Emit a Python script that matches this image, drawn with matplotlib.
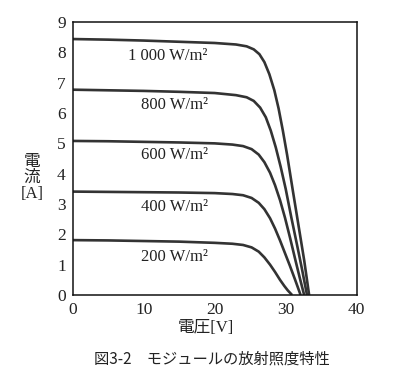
import matplotlib
matplotlib.use("Agg")
import matplotlib.pyplot as plt

# ---- data ----
V1000 = [0, 5, 10, 15, 20, 23, 24.5, 25.5, 26.3, 27.0, 27.7, 28.4, 29.0, 29.6, 30.2, 31.0, 31.8, 32.6, 33.3]
I1000 = [8.44, 8.42, 8.39, 8.35, 8.31, 8.26, 8.20, 8.10, 7.94, 7.68, 7.28, 6.75, 6.15, 5.42, 4.62, 3.45, 2.30, 1.15, 0.0]

V800 = [0, 5, 10, 15, 20, 23, 24.5, 25.5, 26.4, 27.2, 27.9, 28.6, 29.3, 30.0, 30.8, 31.6, 32.3, 33.0]
I800 = [6.77, 6.75, 6.73, 6.70, 6.66, 6.59, 6.52, 6.40, 6.18, 5.86, 5.42, 4.87, 4.22, 3.50, 2.55, 1.65, 0.85, 0.0]

V600 = [0, 5, 10, 15, 20, 22.5, 24, 25.2, 26.2, 27.0, 27.8, 28.5, 29.2, 29.9, 30.6, 31.4, 32.0, 32.6]
I600 = [5.08, 5.07, 5.05, 5.03, 5.00, 4.96, 4.91, 4.81, 4.63, 4.38, 4.03, 3.62, 3.13, 2.55, 1.90, 1.12, 0.55, 0.0]

V400 = [0, 5, 10, 15, 20, 22.5, 24, 25.2, 26.2, 27.0, 27.8, 28.5, 29.2, 29.9, 30.6, 31.3, 32.1]
I400 = [3.41, 3.40, 3.39, 3.38, 3.36, 3.33, 3.29, 3.20, 3.04, 2.83, 2.53, 2.19, 1.80, 1.38, 0.96, 0.52, 0.0]

V200 = [0, 5, 10, 15, 20, 22.5, 24, 25.2, 26.2, 27.0, 27.8, 28.5, 29.2, 29.8, 30.3, 30.9]
I200 = [1.81, 1.80, 1.78, 1.76, 1.72, 1.69, 1.65, 1.57, 1.43, 1.24, 1.00, 0.76, 0.50, 0.30, 0.15, 0.0]

curve_labels = ["1 000 W/m²", "800 W/m²", "600 W/m²", "400 W/m²", "200 W/m²"]
label_y = [7.88, 6.26, 4.62, 2.91, 1.24]

x_ticks = [0, 10, 20, 30, 40]
y_ticks = [0, 1, 2, 3, 4, 5, 6, 7, 8, 9]

xlabel = "電圧[V]"
ylabel = "電\n流\n[A]"
caption = "図3-2　モジュールの放射照度特性"

# ---- figure ----
serif = ["Liberation Serif", "Noto Sans CJK JP", "DejaVu Serif"]
jp = ["Noto Sans CJK JP", "DejaVu Sans"]
plt.rcParams["font.family"] = serif

fig = plt.figure(figsize=(3.97, 3.87), dpi=100)
ax = fig.add_axes([0.183, 0.2377, 0.7155, 0.7053])

line_color = "#333333"
for V, I in [(V1000, I1000), (V800, I800), (V600, I600), (V400, I400), (V200, I200)]:
    ax.plot(V, I, color=line_color, lw=1.9, solid_capstyle="butt")

for txt, y in zip(curve_labels, label_y):
    ax.text(19.0, y, txt, ha="right", va="center", fontsize=12,
            family=serif, color="#222222")

ax.set_xlim(0, 40)
ax.set_ylim(0, 9)
ax.set_xticks(x_ticks)
ax.set_xticklabels([str(t) for t in x_ticks], fontfamily=serif, fontsize=12.5)
ax.set_yticks(y_ticks)
ax.set_yticklabels([str(t) for t in y_ticks], fontfamily=serif, fontsize=12.5)
ax.tick_params(length=0, colors="#222222")
ax.tick_params(axis="x", pad=5)
ax.tick_params(axis="y", pad=5)
for s in ax.spines.values():
    s.set_linewidth(1.1)
    s.set_color("#111111")

fig.text(206 / 397, 1 - 328 / 387, xlabel, ha="center", va="center",
         fontsize=12, family=serif, color="#222222")
fig.text(32 / 397, 1 - 178 / 387, ylabel, ha="center", va="center",
         fontsize=12, family=serif, color="#222222", linespacing=1.0)
fig.text(212 / 397, 1 - 359 / 387, caption, ha="center", va="center",
         fontsize=11, family=jp, color="#222222")

fig.savefig("out.png", dpi=100)
